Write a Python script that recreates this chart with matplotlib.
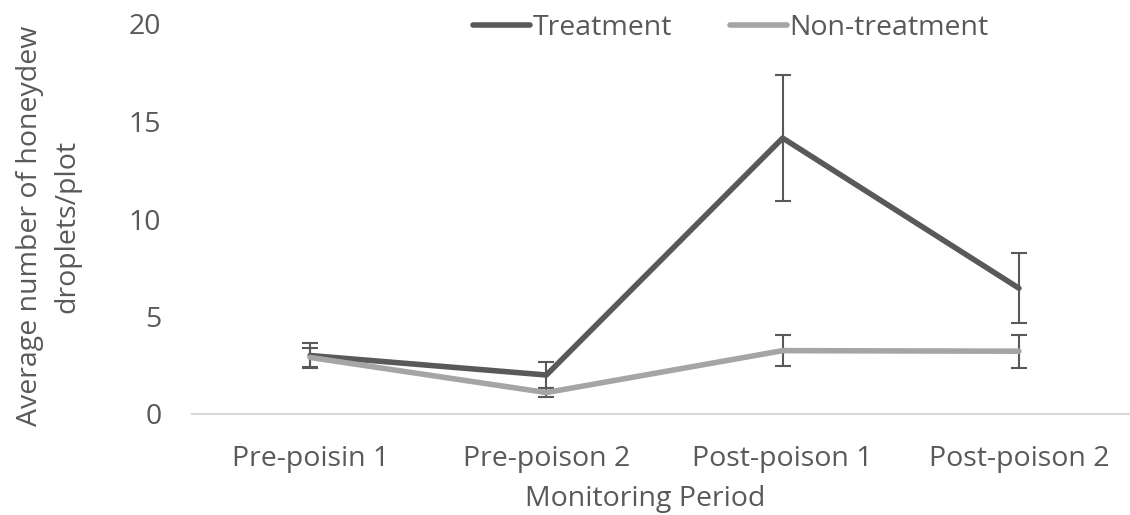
import matplotlib
matplotlib.use("Agg")
import matplotlib.pyplot as plt
from matplotlib.lines import Line2D

periods = ["Pre-poisin 1", "Pre-poison 2", "Post-poison 1", "Post-poison 2"]
treatment = [3.0, 2.0, 14.15, 6.45]
treatment_err = [0.65, 0.65, 3.25, 1.8]
non_treatment = [2.9, 1.1, 3.25, 3.22]
non_treatment_err = [0.5, 0.25, 0.8, 0.85]
yticks = [0, 5, 10, 15, 20]

plt.rcParams['font.family'] = ['Open Sans', 'DejaVu Sans']
txt = '#595959'
fs = 20.5

W, H = 1130, 515
fig = plt.figure(figsize=(W/100, H/100), dpi=100)
ax = fig.add_axes([192/W, 1 - 414/H, (W - 192)/W, (414 - 24)/H])

x = list(range(len(periods)))
ax.errorbar(x, treatment, yerr=treatment_err, color='#595959', lw=4,
            ecolor='#595959', elinewidth=1.5, capsize=6, capthick=1.5,
            solid_capstyle='round', zorder=3)
ax.errorbar(x, non_treatment, yerr=non_treatment_err, color='#A5A5A5', lw=4,
            ecolor='#595959', elinewidth=1.5, capsize=6, capthick=1.5,
            solid_capstyle='round', zorder=3)

ax.set_ylim(0, 20)
ax.set_xlim(-0.5, 3.47)
ax.set_yticks(yticks)
ax.set_xticks(x)
ax.set_xticklabels(periods)
for s in ['top', 'right', 'left']:
    ax.spines[s].set_visible(False)
ax.spines['bottom'].set_color('#D9D9D9')
ax.spines['bottom'].set_linewidth(1.5)
ax.tick_params(axis='both', length=0, labelsize=fs, colors=txt)
ax.tick_params(axis='y', pad=22)
ax.tick_params(axis='x', pad=22)

fig.text(645/W, 1 - 499/H, "Monitoring Period", ha='center', va='center',
         fontsize=fs, color=txt)
fig.text(49/W, 1 - 226/H, "Average number of honeydew\ndroplets/plot", ha='center',
         va='center', rotation=90, fontsize=fs, color=txt, linespacing=1.45)

handles = [Line2D([0], [0], color='#595959', lw=4, solid_capstyle='round'),
           Line2D([0], [0], color='#A5A5A5', lw=4, solid_capstyle='round')]
fig.legend(handles, ["Treatment", "Non-treatment"], loc='center',
           bbox_to_anchor=(731/W, 1 - 28/H), ncol=2, frameon=False,
           fontsize=fs, labelcolor=txt, handlelength=2.0, handletextpad=0.1,
           columnspacing=2.0, borderpad=0)

fig.savefig("out.png", dpi=100)
